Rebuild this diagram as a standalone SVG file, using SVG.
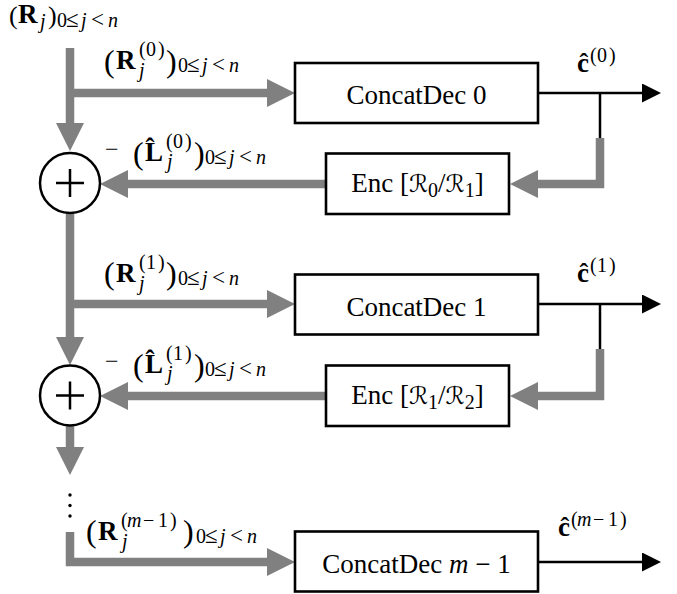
<svg xmlns="http://www.w3.org/2000/svg" width="677" height="594" viewBox="0 0 677 594">
<style>
.t{font-family:"Liberation Serif","Times New Roman",serif;font-size:27px;fill:#000}
.b{font-weight:bold}
.i{font-style:italic}
.s{font-size:20px}
.r{font-size:23px}
.p{font-size:32px}
.cal{font-family:"DejaVu Serif","DejaVu Sans","Noto Sans",serif;font-size:24px}
.box{fill:#fff;stroke:#000;stroke-width:2.6}
.sum{fill:#fff;stroke:#000;stroke-width:2.5}
.g{fill:none;stroke:#808080;stroke-width:8.5;stroke-linejoin:miter}
.gm{marker-end:url(#ga)}
.k{fill:none;stroke:#000;stroke-width:2.5}
.km{marker-end:url(#ka)}
</style>
<defs>
<marker id="ga" markerUnits="userSpaceOnUse" viewBox="0 0 28 28" markerWidth="28" markerHeight="28" refX="0" refY="14" orient="auto"><path d="M0,0 L28,14 L0,28 z" fill="#808080"/></marker>
<marker id="ka" markerUnits="userSpaceOnUse" viewBox="0 0 19 19" markerWidth="19" markerHeight="19" refX="0" refY="9.5" orient="auto"><path d="M0,0 L19,9.5 L0,19 z" fill="#000"/></marker>
</defs>

<g id="connectors">
  <path class="g gm" d="M70,48 V123"/>
  <path class="g gm" d="M70,93 H267"/>
  <path class="k km" d="M538,93 H642"/>
  <path class="k" d="M600,93 V139"/>
  <path class="g gm" d="M600,138 V184 H538"/>
  <path class="g gm" d="M326,184 H128"/>

  <path class="g gm" d="M70,213 V337"/>
  <path class="g gm" d="M70,304 H267"/>
  <path class="k km" d="M538,304 H642"/>
  <path class="k" d="M600,304 V350"/>
  <path class="g gm" d="M600,349 V396 H538"/>
  <path class="g gm" d="M326,396 H128"/>

  <path class="g gm" d="M70,425 V447"/>
  <g fill="#000">
    <circle cx="70" cy="495" r="1.7"/>
    <circle cx="70" cy="505.5" r="1.7"/>
    <circle cx="70" cy="516" r="1.7"/>
  </g>
  <path class="g gm" d="M70,532 V562 H267"/>
  <path class="k km" d="M538,562 H642"/>
</g>

<g id="dec0">
  <rect class="box" x="295" y="63" width="243" height="60"/>
  <text class="t" x="416.5" y="104" text-anchor="middle">ConcatDec 0</text>
</g>
<g id="enc0">
  <rect class="box" x="326" y="153.5" width="183" height="60.5"/>
  <text class="t" x="417.5" y="192" text-anchor="middle">Enc [<tspan class="cal">ℛ</tspan><tspan class="s" dy="5">0</tspan><tspan dy="-5">/</tspan><tspan class="cal">ℛ</tspan><tspan class="s" dy="5">1</tspan><tspan dy="-5">]</tspan></text>
</g>
<g id="sum0">
  <circle class="sum" cx="70" cy="183" r="30"/>
  <path class="k" d="M56,183 H84 M70,169 V197"/>
</g>

<g id="dec1">
  <rect class="box" x="295" y="274.5" width="243" height="60"/>
  <text class="t" x="416.5" y="316" text-anchor="middle">ConcatDec 1</text>
</g>
<g id="enc1">
  <rect class="box" x="326" y="365.5" width="183" height="60.5"/>
  <text class="t" x="417.5" y="404" text-anchor="middle">Enc [<tspan class="cal">ℛ</tspan><tspan class="s" dy="5">1</tspan><tspan dy="-5">/</tspan><tspan class="cal">ℛ</tspan><tspan class="s" dy="5">2</tspan><tspan dy="-5">]</tspan></text>
</g>
<g id="sum1">
  <circle class="sum" cx="70" cy="395.5" r="30"/>
  <path class="k" d="M56,395.5 H84 M70,381.5 V409.5"/>
</g>

<g id="decm">
  <rect class="box" x="295" y="531.5" width="243" height="60"/>
  <text class="t" x="416.5" y="573" text-anchor="middle">ConcatDec <tspan class="i">m</tspan> − 1</text>
</g>

<g id="labels">
  <!-- (R_j)_{0<=j<n} -->
  <text class="t" x="9" y="24" style="font-size:26px">(</text>
  <text class="t b" x="18" y="23">R</text>
  <text class="t s i" x="40" y="28">j</text>
  <text class="t" x="48" y="24" style="font-size:26px">)</text>
  <text class="t s" y="27"><tspan x="57">0</tspan><tspan class="r" x="66">≤</tspan><tspan class="i" x="81">j</tspan><tspan class="r" x="91">&lt;</tspan><tspan class="i" x="108">n</tspan></text>

  <!-- (R_j^(0)) -->
  <text class="t p" x="104" y="72">(</text>
  <text class="t b" x="116" y="69">R</text>
  <text class="t s" y="56"><tspan x="139">(</tspan><tspan x="146">0</tspan><tspan x="158">)</tspan></text>
  <text class="t s i" x="139" y="77">j</text>
  <text class="t p" x="166" y="72">)</text>
  <text class="t s" y="72"><tspan x="178">0</tspan><tspan class="r" x="187">≤</tspan><tspan class="i" x="202">j</tspan><tspan class="r" x="212">&lt;</tspan><tspan class="i" x="229">n</tspan></text>

  <!-- - (L_j^(0)) -->
  <text class="t" x="105" y="157" style="font-size:24px">−</text>
  <text class="t p" x="133" y="164">(</text>
  <text class="t b" x="145" y="161">L̂</text>
  <text class="t s" y="148"><tspan x="166">(</tspan><tspan x="173">0</tspan><tspan x="185">)</tspan></text>
  <text class="t s i" x="167" y="168">j</text>
  <text class="t p" x="194" y="164">)</text>
  <text class="t s" y="164"><tspan x="205">0</tspan><tspan class="r" x="214">≤</tspan><tspan class="i" x="229">j</tspan><tspan class="r" x="239">&lt;</tspan><tspan class="i" x="256">n</tspan></text>

  <!-- c^(0) -->
  <text class="t b" x="577" y="72">ĉ</text>
  <text class="t s" y="62"><tspan x="590">(</tspan><tspan x="597">0</tspan><tspan x="609">)</tspan></text>

  <!-- (R_j^(1)) -->
  <text class="t p" x="104" y="284">(</text>
  <text class="t b" x="116" y="282">R</text>
  <text class="t s" y="269"><tspan x="139">(</tspan><tspan x="146">1</tspan><tspan x="158">)</tspan></text>
  <text class="t s i" x="139" y="290">j</text>
  <text class="t p" x="166" y="284">)</text>
  <text class="t s" y="285"><tspan x="178">0</tspan><tspan class="r" x="187">≤</tspan><tspan class="i" x="202">j</tspan><tspan class="r" x="212">&lt;</tspan><tspan class="i" x="229">n</tspan></text>

  <!-- - (L_j^(1)) -->
  <text class="t" x="105" y="369" style="font-size:24px">−</text>
  <text class="t p" x="133" y="376">(</text>
  <text class="t b" x="145" y="373">L̂</text>
  <text class="t s" y="360"><tspan x="166">(</tspan><tspan x="173">1</tspan><tspan x="185">)</tspan></text>
  <text class="t s i" x="167" y="380">j</text>
  <text class="t p" x="194" y="376">)</text>
  <text class="t s" y="376"><tspan x="205">0</tspan><tspan class="r" x="214">≤</tspan><tspan class="i" x="229">j</tspan><tspan class="r" x="239">&lt;</tspan><tspan class="i" x="256">n</tspan></text>

  <!-- c^(1) -->
  <text class="t b" x="577" y="282">ĉ</text>
  <text class="t s" y="272"><tspan x="590">(</tspan><tspan x="597">1</tspan><tspan x="609">)</tspan></text>

  <!-- (R_j^(m-1)) -->
  <text class="t p" x="86" y="542">(</text>
  <text class="t b" x="98" y="540">R</text>
  <text class="t s" y="527"><tspan x="121">(</tspan><tspan class="i" x="127">m</tspan><tspan x="143">−</tspan><tspan x="158">1</tspan><tspan x="170">)</tspan></text>
  <text class="t s i" x="122" y="548">j</text>
  <text class="t p" x="183" y="542">)</text>
  <text class="t s" y="543"><tspan x="196">0</tspan><tspan class="r" x="205">≤</tspan><tspan class="i" x="220">j</tspan><tspan class="r" x="230">&lt;</tspan><tspan class="i" x="247">n</tspan></text>

  <!-- c^(m-1) -->
  <text class="t b" x="558" y="536">ĉ</text>
  <text class="t s" y="526"><tspan x="571">(</tspan><tspan class="i" x="577">m</tspan><tspan x="593">−</tspan><tspan x="608">1</tspan><tspan x="620">)</tspan></text>
</g>
</svg>
